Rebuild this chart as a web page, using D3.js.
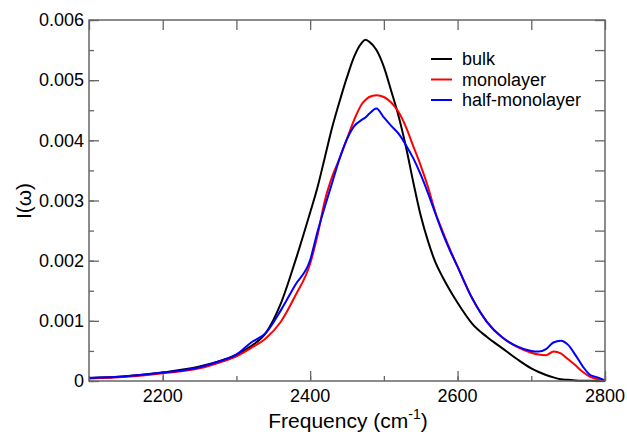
<!DOCTYPE html>
<html>
<head>
<meta charset="utf-8">
<script src="https://cdn.jsdelivr.net/npm/d3@7"></script>
<style>
  body { margin: 0; background: #fff; }
  text { font-family: "Liberation Sans", Arial, sans-serif; fill: #000; }
</style>
</head>
<body>
<svg id="chart" width="627" height="434"></svg>
<script>
// frequency grid (cm-1)
var freq = [2100, 2150, 2200, 2250, 2280, 2300, 2320, 2340, 2360, 2380,
	2400, 2410, 2420, 2430, 2440, 2450, 2460, 2470, 2475, 2480, 2490,
	2500, 2510, 2520, 2530, 2540, 2550, 2560, 2570, 2580, 2590,
	2600, 2620, 2640, 2660, 2680, 2700, 2710, 2720, 2730, 2740,
	2750, 2760, 2770, 2780, 2790, 2800];

var bulk = [0.00005, 0.00008, 0.00014, 0.00024, 0.00034, 0.00044, 0.00058, 0.00080, 0.00128, 0.00200,
	0.00280, 0.00322, 0.00372, 0.00422, 0.00465, 0.00505, 0.00540, 0.00562, 0.00567, 0.00564, 0.00550,
	0.00522, 0.00482, 0.00440, 0.00389, 0.00330, 0.00275, 0.00232, 0.00197, 0.00172, 0.00150,
	0.00130, 0.00095, 0.00073, 0.00055, 0.00037, 0.00021, 0.00015, 0.00010, 0.00006, 0.00003,
	0.00002, 0.00001, 0.000005, 0.000003, 0.000001, 0];

var monolayer = [0.00004, 0.00007, 0.00013, 0.00021, 0.00032, 0.00041, 0.00055, 0.00071, 0.00098, 0.00142,
	0.00195, 0.00242, 0.00300, 0.00340, 0.00370, 0.00403, 0.00435, 0.00460, 0.00467, 0.00472, 0.00475,
	0.00472, 0.00463, 0.00447, 0.00422, 0.00390, 0.00358, 0.00322, 0.00280, 0.00248, 0.00218,
	0.00190, 0.00137, 0.00098, 0.00073, 0.00057, 0.00047, 0.00044, 0.00043, 0.00049, 0.00046,
	0.00036, 0.00026, 0.00015, 0.00007, 0.00003, 0.00001];

var halfMonolayer = [0.00005, 0.00008, 0.00014, 0.00023, 0.00034, 0.00044, 0.00064, 0.00080, 0.00117, 0.00160,
	0.00201, 0.00248, 0.00290, 0.00330, 0.00370, 0.00402, 0.00424, 0.00434, 0.00438, 0.00444, 0.00453,
	0.00438, 0.00424, 0.00411, 0.00392, 0.00370, 0.00343, 0.00312, 0.00278, 0.00245, 0.00216,
	0.00190, 0.00137, 0.00098, 0.00073, 0.00058, 0.00050, 0.00049, 0.00053, 0.00064, 0.00067,
	0.00060, 0.00043, 0.00024, 0.00010, 0.00006, 0.00001];

var seriesNames = ['bulk', 'monolayer', 'half-monolayer'];
var seriesColors = ['#000000', '#ff0000', '#0000ff'];
var seriesValues = [bulk, monolayer, halfMonolayer];

var xTicks = [2200, 2400, 2600, 2800];
var yTicks = [0, 0.001, 0.002, 0.003, 0.004, 0.005, 0.006];

var plotLeft = 89, plotRight = 605, plotTop = 20, plotBottom = 381;
var axisColor = '#666';

var svg = d3.select('#chart');

var x = d3.scaleLinear().domain([2100, 2800]).range([plotLeft, plotRight]);
var y = d3.scaleLinear().domain([0, 0.006]).range([plotBottom, plotTop]);

//frame ticks on all sides
var minorX = d3.range(2100, 2801, 100);
var minorY = d3.range(0, 0.00601, 0.0005);

function noDomain(g){ g.select('.domain').remove(); }

svg.append('g')
	.attr('transform', 'translate(0,' + plotBottom + ')')
	.call(d3.axisTop(x).tickValues(minorX).tickSize(5).tickFormat(''))
	.call(noDomain);
svg.append('g')
	.attr('transform', 'translate(0,' + plotBottom + ')')
	.call(d3.axisTop(x).tickValues(xTicks).tickSize(10).tickFormat(''))
	.call(noDomain);
svg.append('g')
	.attr('transform', 'translate(0,' + plotTop + ')')
	.call(d3.axisBottom(x).tickValues(minorX).tickSize(10).tickFormat(''))
	.call(noDomain);
svg.append('g')
	.attr('transform', 'translate(' + plotLeft + ',0)')
	.call(d3.axisRight(y).tickValues(minorY).tickSize(5).tickFormat(''))
	.call(noDomain);
svg.append('g')
	.attr('transform', 'translate(' + plotLeft + ',0)')
	.call(d3.axisRight(y).tickValues(yTicks).tickSize(10).tickFormat(''))
	.call(noDomain);
svg.append('g')
	.attr('transform', 'translate(' + plotRight + ',0)')
	.call(d3.axisLeft(y).tickValues(minorY).tickSize(10).tickFormat(''))
	.call(noDomain);

svg.selectAll('.tick line')
	.attr('stroke', axisColor)
	.attr('stroke-width', 1.3);

//curves
var line = d3.line()
	.x(function(d){ return x(d[0]); })
	.y(function(d){ return y(d[1]); })
	.curve(d3.curveMonotoneX);

svg.append('g')
	.selectAll('path')
	.data(seriesValues)
	.enter()
	.append('path')
	.attr('d', function(vals){
		return line(freq.map(function(f, i){ return [f, vals[i]]; }));
	})
	.attr('fill', 'none')
	.attr('stroke', function(d, i){ return seriesColors[i]; })
	.attr('stroke-width', 2)
	.attr('stroke-linejoin', 'round');

//frame
svg.append('rect')
	.attr('x', plotLeft)
	.attr('y', plotTop)
	.attr('width', plotRight - plotLeft)
	.attr('height', plotBottom - plotTop)
	.attr('fill', 'none')
	.attr('stroke', axisColor)
	.attr('stroke-width', 1.5);

//tick labels
svg.append('g')
	.selectAll('text')
	.data(xTicks)
	.enter()
	.append('text')
	.attr('x', function(d){ return x(d); })
	.attr('y', 402)
	.attr('text-anchor', 'middle')
	.attr('font-size', 18)
	.text(function(d){ return d; });

svg.append('g')
	.selectAll('text')
	.data(yTicks)
	.enter()
	.append('text')
	.attr('x', 84)
	.attr('y', function(d){ return y(d); })
	.attr('dy', '0.35em')
	.attr('text-anchor', 'end')
	.attr('font-size', 18)
	.text(function(d){ return d === 0 ? '0' : d3.format('.3f')(d); });

//axis titles
var xt = svg.append('text')
	.attr('x', 348)
	.attr('y', 428)
	.attr('text-anchor', 'middle')
	.attr('font-size', 21);
xt.append('tspan').text('Frequency (cm');
xt.append('tspan').attr('font-size', 14).attr('dy', -9).text('-1');
xt.append('tspan').attr('dy', 9).text(')');

svg.append('text')
	.attr('transform', 'translate(31,201) rotate(-90)')
	.attr('text-anchor', 'middle')
	.attr('font-size', 21)
	.text('I(ω)');

//legend
var legend = svg.append('g');
seriesNames.forEach(function(name, i){
	var ly = 59 + i * 20.5;
	legend.append('line')
		.attr('x1', 431).attr('x2', 452)
		.attr('y1', ly).attr('y2', ly)
		.attr('stroke', seriesColors[i])
		.attr('stroke-width', 2);
	legend.append('text')
		.attr('x', 462)
		.attr('y', ly)
		.attr('dy', '0.35em')
		.attr('font-size', 18)
		.text(name);
});
</script>
</body>
</html>
